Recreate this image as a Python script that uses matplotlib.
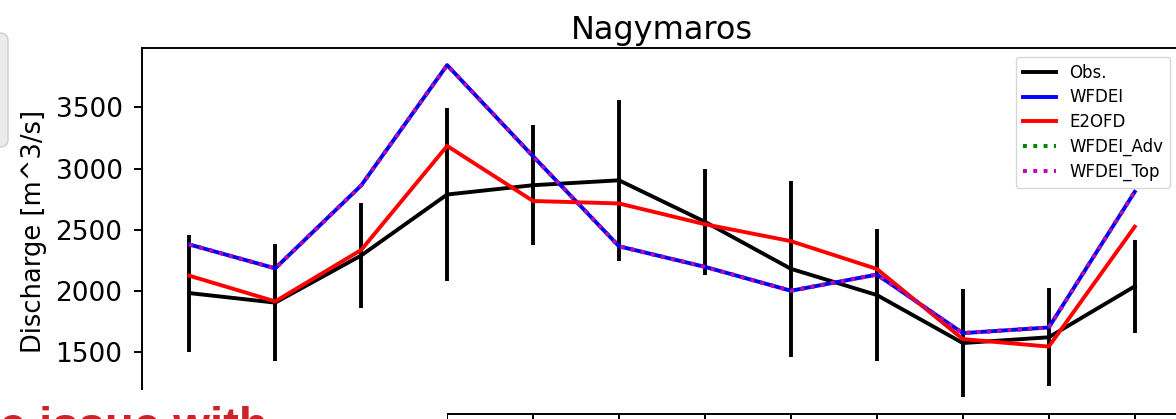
import matplotlib.pyplot as plt
import numpy as np
from matplotlib.patches import Rectangle, FancyBboxPatch
from matplotlib.transforms import IdentityTransform

# Monthly mean discharge at Nagymaros [m^3/s]
months = np.arange(1, 13)
obs = [1983, 1905, 2290, 2788, 2864, 2904, 2565, 2181, 1967, 1575, 1622, 2038]
obs_err = [478, 475, 430, 704, 490, 655, 433, 717, 538, 440, 400, 377]
wfdei = [2380, 2185, 2862, 3845, 3100, 2365, 2197, 2002, 2134, 1656, 1702, 2810]
e2ofd = [2125, 1915, 2335, 3185, 2735, 2715, 2545, 2407, 2180, 1607, 1546, 2525]
wfdei_adv = [2380, 2185, 2862, 3845, 3100, 2365, 2197, 2002, 2134, 1656, 1702, 2810]
wfdei_top = [2380, 2185, 2862, 3845, 3100, 2365, 2197, 2002, 2134, 1656, 1702, 2810]
yticks = [1500, 2000, 2500, 3000, 3500]

W, H = 1176, 419
fig = plt.figure(figsize=(W / 100, H / 100), dpi=100)
ax = fig.add_axes([142 / W, 1 - 413.5 / H, (1182 - 142) / W, (413.5 - 48.5) / H])

lw = 2.8
ax.plot(months, obs, 'k', lw=lw, label='Obs.')
ax.errorbar(months, obs, yerr=obs_err, fmt='none', ecolor='k', elinewidth=lw)
ax.plot(months, wfdei, 'b', lw=lw, label='WFDEI')
ax.plot(months, e2ofd, 'r', lw=lw, label='E2OFD')
ax.plot(months, wfdei_adv, 'g:', lw=lw, label='WFDEI_Adv')
ax.plot(months, wfdei_top, 'm:', lw=lw, label='WFDEI_Top')

ax.set_xticks(months)
ax.set_yticks(yticks)
ax.tick_params(labelsize=19, length=6, width=1.4, pad=8)
ax.tick_params(axis='x', labelbottom=False)
for s in ax.spines.values():
    s.set_linewidth(1.4)

ax.set_title('Nagymaros', fontsize=23, pad=7)
ax.set_ylabel('Discharge [m^3/s]', fontsize=18.5, labelpad=6)
ax.legend(loc='upper right', bbox_to_anchor=(0.9885, 0.9767), borderaxespad=0,
          fontsize=12, labelspacing=0.4)

# slide overlay: caption box over the lower left corner
fig.add_artist(Rectangle((0, 0), 447 / W, 29 / H, transform=fig.transFigure,
                         fc='white', ec='none', zorder=5))
fig.text(268 / W, -21 / H, 'The issue with', ha='right', va='baseline',
         color='#cc2229', fontsize=34, fontweight='bold',
         family='Liberation Sans', zorder=6)

# side panel edge on the left
fig.add_artist(FancyBboxPatch((-30, H - 147), 38, 114, transform=IdentityTransform(),
                              boxstyle='round,pad=0,rounding_size=8',
                              fc='#ebebeb', ec='#d3d3d3', lw=1.2, zorder=5))

fig.savefig('out.png', dpi=100)
